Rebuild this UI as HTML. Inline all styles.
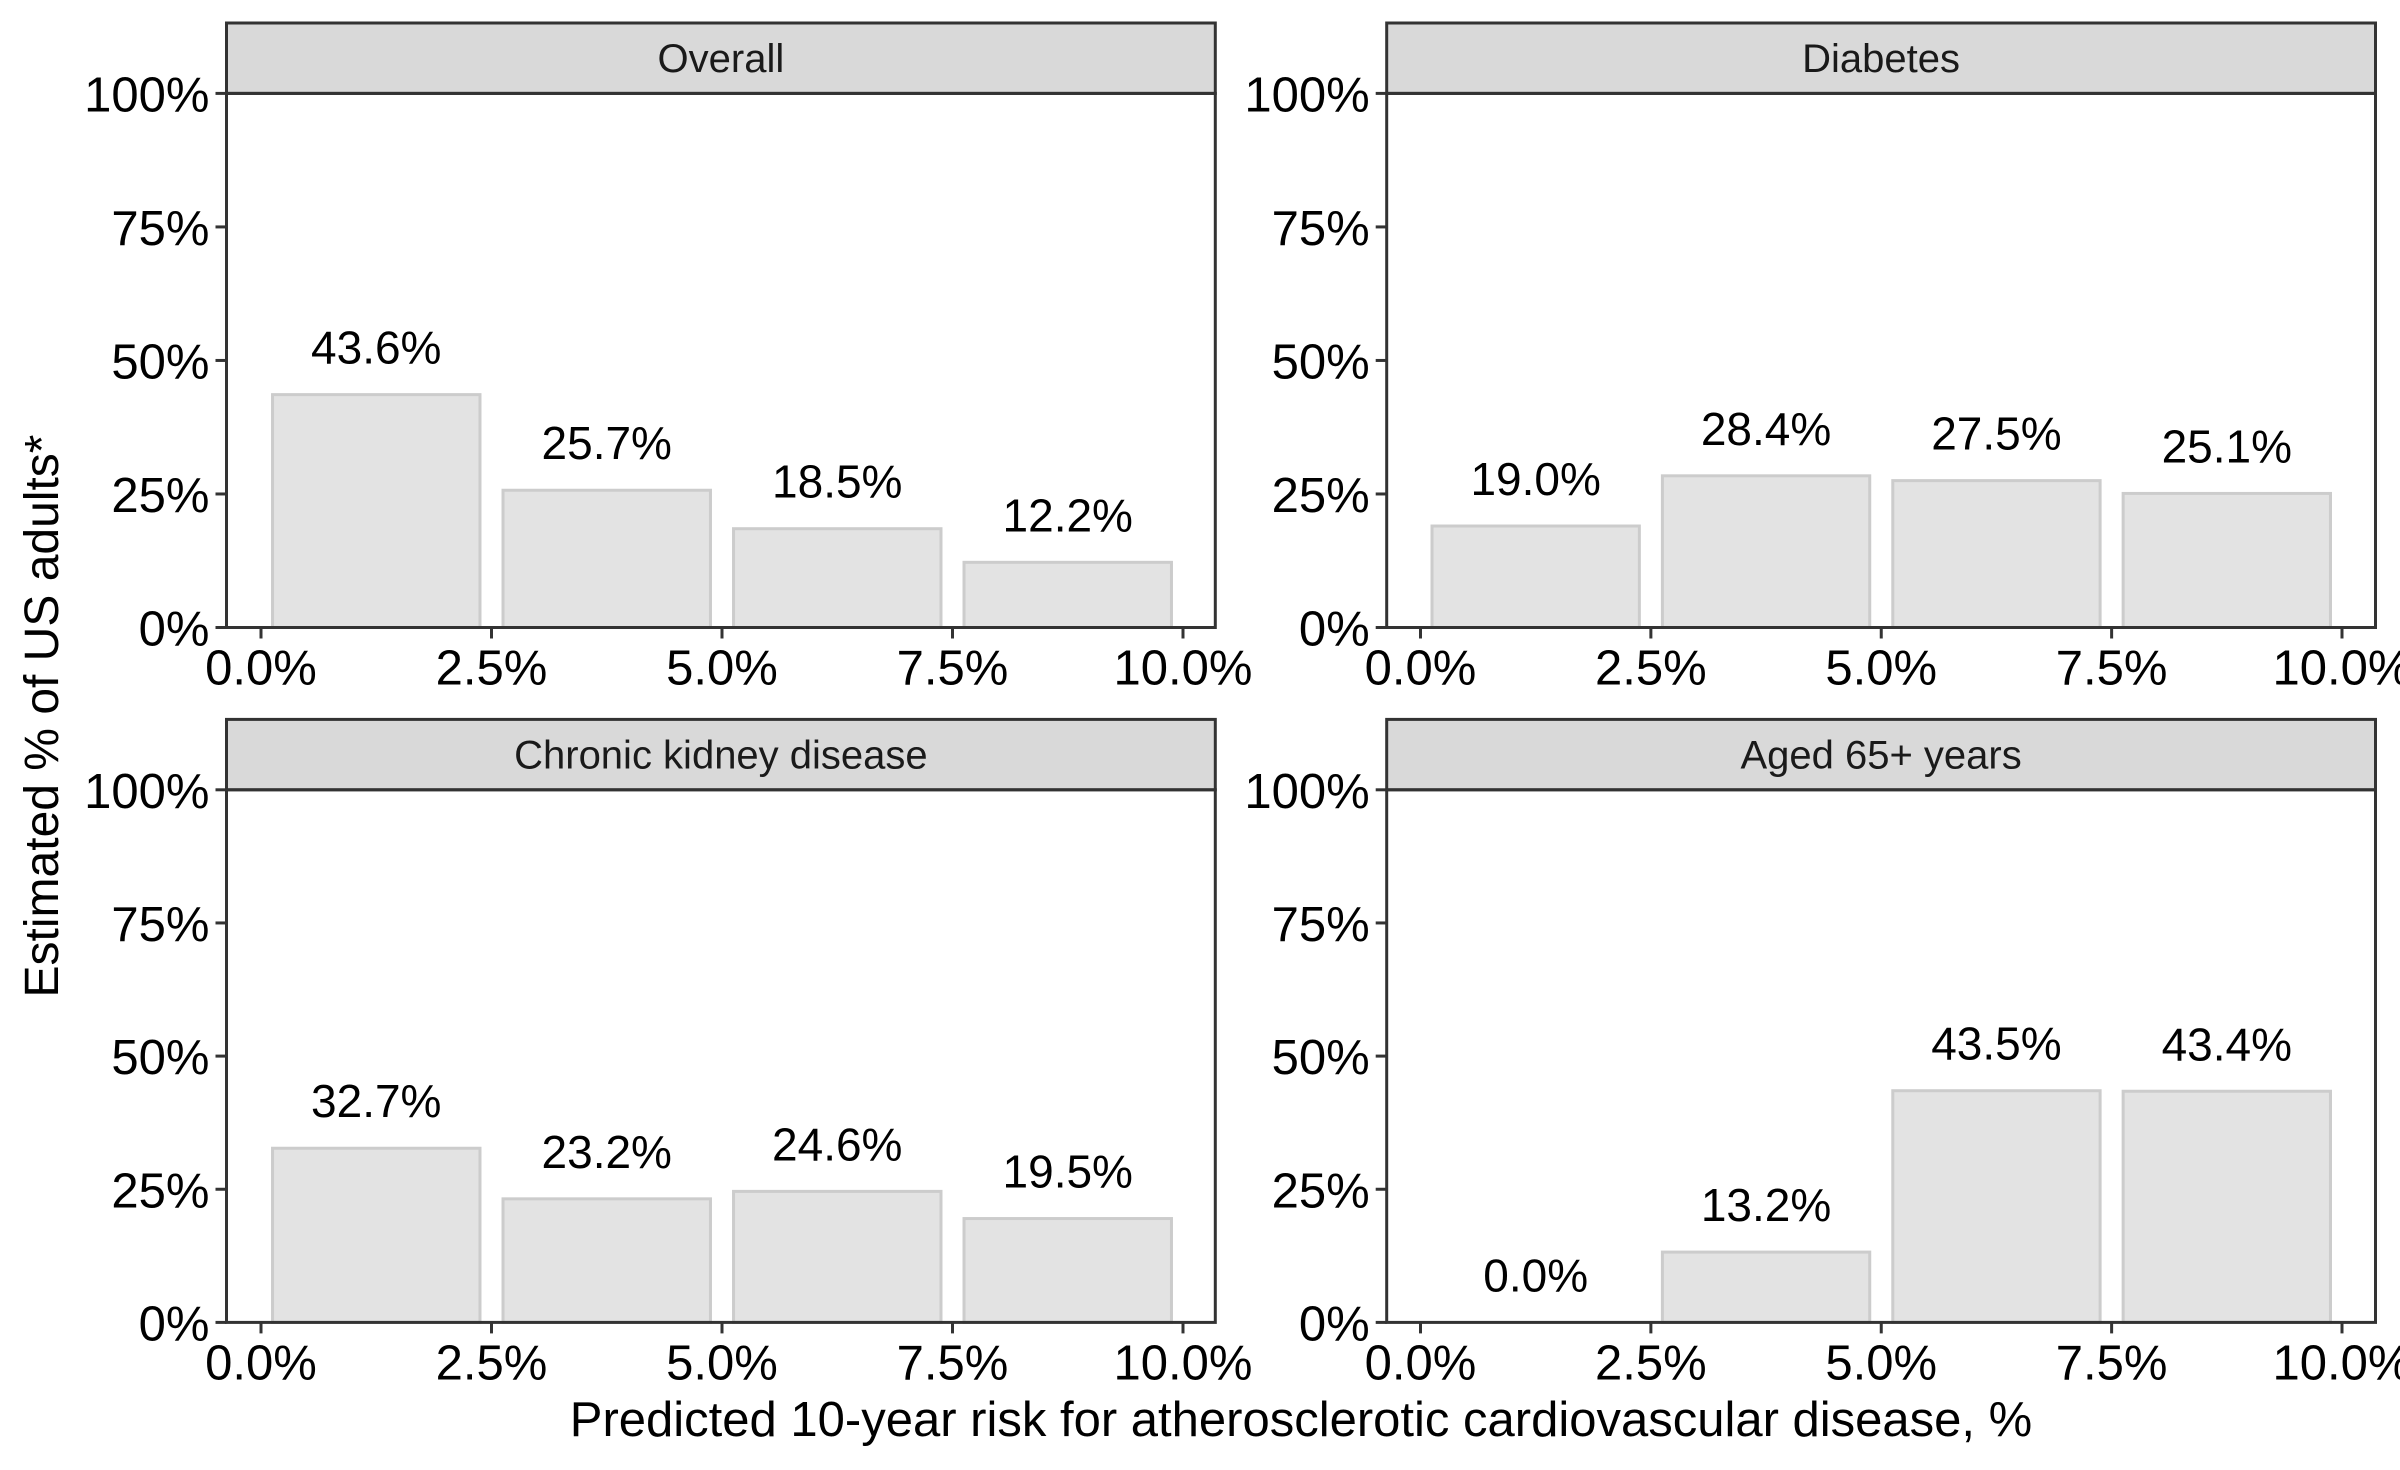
<!DOCTYPE html>
<html><head><meta charset="utf-8"><style>
html,body{margin:0;padding:0;background:#fff;}
svg{display:block;font-family:"Liberation Sans",Arial,sans-serif;}
</style></head><body>
<svg id="chart" width="2400" height="1470" viewBox="0 0 2400 1470" xmlns="http://www.w3.org/2000/svg">
<text x="1301" y="1436" font-size="49" text-anchor="middle" fill="#000">Predicted 10-year risk for atherosclerotic cardiovascular disease, %</text>
<text transform="translate(58,716) rotate(-90)" font-size="48" text-anchor="middle" fill="#000">Estimated % of US adults*</text>
</svg>
<script>
const panelTitles = ["Overall", "Diabetes", "Chronic kidney disease", "Aged 65+ years"];
const binCenters = [1.25, 3.75, 6.25, 8.75];
const overallValues = [43.6, 25.7, 18.5, 12.2];
const diabetesValues = [19.0, 28.4, 27.5, 25.1];
const ckdValues = [32.7, 23.2, 24.6, 19.5];
const agedValues = [0.0, 13.2, 43.5, 43.4];
const yTicks = [0, 25, 50, 75, 100];
const yTickLabels = ["0%", "25%", "50%", "75%", "100%"];
const xTicks = [0, 2.5, 5, 7.5, 10];
const xTickLabels = ["0.0%", "2.5%", "5.0%", "7.5%", "10.0%"];
const binWidth = 2.25;

const seriesList = [overallValues, diabetesValues, ckdValues, agedValues];
const svg = document.getElementById('chart');
const NS = 'http://www.w3.org/2000/svg';
function mk(tag, attrs, parent) {
  const e = document.createElementNS(NS, tag);
  for (const k in attrs) e.setAttribute(k, attrs[k]);
  (parent || svg).appendChild(e);
  return e;
}
const cols = [{l: 226.5, r: 1215.3, x0: 261, x10: 1183}, {l: 1386.7, r: 2375.5, x0: 1420.5, x10: 2342}];
const rows = [{st: 23, sb: 93.4, y0: 627.5}, {st: 719.4, sb: 789.8, y0: 1322.4}];

seriesList.forEach((vals, i) => {
  const c = cols[i % 2], r = rows[Math.floor(i / 2)];
  const xs = v => c.x0 + (v / 10) * (c.x10 - c.x0);
  const ys = v => r.y0 - (v / 100) * (r.y0 - r.sb);
  const g = mk('g', {});
  
  
  const strip = mk('rect', {x: c.l, y: r.st, width: c.r - c.l, height: r.sb - r.st, fill: '#d9d9d9', stroke: '#333', 'stroke-width': 3}, g);
  
  
  const st = mk('text', {x: (c.l + c.r) / 2, y: (r.st + r.sb) / 2 + 14, 'font-size': 40, 'text-anchor': 'middle', fill: '#1a1a1a'}, g);
  st.textContent = panelTitles[i];
  
  
  vals.forEach((v, j) => {
    const x1 = xs(binCenters[j] - binWidth / 2), x2 = xs(binCenters[j] + binWidth / 2);
    if (v > 0) {
      const b = mk('rect', {x: x1, y: ys(v), width: x2 - x1, height: ys(0) - ys(v), fill: '#e3e3e3', stroke: '#cccccc', 'stroke-width': 3}, g);
      
      
    }
    const t = mk('text', {x: xs(binCenters[j]), y: ys(v) - 31, 'font-size': 46, 'text-anchor': 'middle', fill: '#000'}, g);
    t.textContent = v.toFixed(1) + '%';
    
    
  });
  const frame = mk('rect', {x: c.l, y: r.sb, width: c.r - c.l, height: r.y0 - r.sb, fill: 'none', stroke: '#333', 'stroke-width': 3}, g);
  
  
  yTicks.forEach((v, k) => {
    mk('line', {x1: c.l - 11, x2: c.l, y1: ys(v), y2: ys(v), stroke: '#333', 'stroke-width': 3}, g);
    const t = mk('text', {x: c.l - 17, y: ys(v) + 18, 'font-size': 49, 'text-anchor': 'end', fill: '#000'}, g);
    t.textContent = yTickLabels[k];
    
    
  });
  xTicks.forEach((v, k) => {
    mk('line', {x1: xs(v), x2: xs(v), y1: r.y0, y2: r.y0 + 11, stroke: '#333', 'stroke-width': 3}, g);
    const t = mk('text', {x: xs(v), y: r.y0 + 57, 'font-size': 49, 'text-anchor': 'middle', fill: '#000'}, g);
    t.textContent = xTickLabels[k];
    
    
  });
});
</script>
</body></html>
